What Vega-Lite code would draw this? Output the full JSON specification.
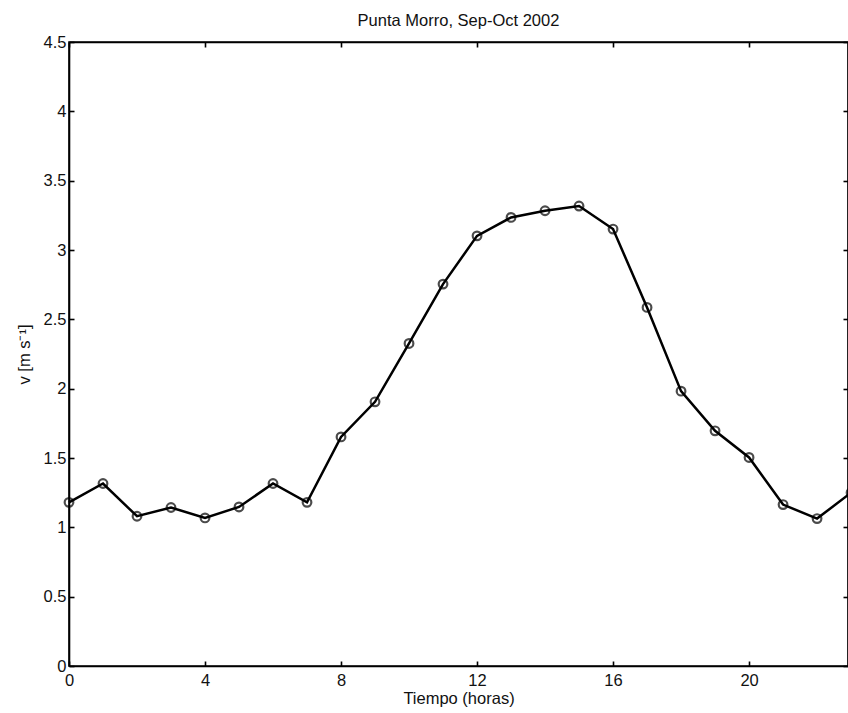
{
  "$schema": "https://vega.github.io/schema/vega-lite/v6.json",
  "autosize": "none",
  "width": 779,
  "height": 624,
  "padding": {"left": 69, "top": 42, "right": 0, "bottom": 47},
  "background": "white",
  "title": {
    "text": "Punta Morro, Sep-Oct 2002",
    "font": "Liberation Sans",
    "fontSize": 16.5,
    "fontWeight": "normal",
    "color": "#111",
    "offset": 5,
    "anchor": "middle"
  },
  "config": {
    "view": {"stroke": "black", "strokeWidth": 1.6},
    "axis": {
      "grid": false,
      "domainColor": "black",
      "domainWidth": 1.6,
      "tickColor": "black",
      "tickWidth": 1.6,
      "tickSize": -5,
      "labelFont": "Liberation Sans",
      "labelFontSize": 16.5,
      "labelColor": "#111",
      "titleFont": "Liberation Sans",
      "titleFontSize": 16.5,
      "titleFontWeight": "normal",
      "titleColor": "#111"
    }
  },
  "data": {
    "values": [
      {"hora": 0, "v": 1.18},
      {"hora": 1, "v": 1.316},
      {"hora": 2, "v": 1.08},
      {"hora": 3, "v": 1.143},
      {"hora": 4, "v": 1.068},
      {"hora": 5, "v": 1.147},
      {"hora": 6, "v": 1.316},
      {"hora": 7, "v": 1.18},
      {"hora": 8, "v": 1.652},
      {"hora": 9, "v": 1.905},
      {"hora": 10, "v": 2.326},
      {"hora": 11, "v": 2.754},
      {"hora": 12, "v": 3.102},
      {"hora": 13, "v": 3.235},
      {"hora": 14, "v": 3.283},
      {"hora": 15, "v": 3.317},
      {"hora": 16, "v": 3.151},
      {"hora": 17, "v": 2.586},
      {"hora": 18, "v": 1.982},
      {"hora": 19, "v": 1.696},
      {"hora": 20, "v": 1.504},
      {"hora": 21, "v": 1.164},
      {"hora": 22, "v": 1.063},
      {"hora": 23, "v": 1.25}
    ]
  },
  "layer": [
    {
      "mark": {"type": "line", "color": "black", "strokeWidth": 2.5, "clip": false},
      "encoding": {
        "x": {
          "field": "hora", "type": "quantitative",
          "scale": {"domain": [0, 22.91], "nice": false, "zero": false},
          "axis": {"orient": "bottom", "values": [0, 4, 8, 12, 16, 20], "format": "~g", "title": "Tiempo (horas)", "labelPadding": 11, "titlePadding": 2, "labelFlush": false}
        },
        "y": {
          "field": "v", "type": "quantitative",
          "scale": {"domain": [0, 4.5], "nice": false},
          "axis": {"orient": "left", "values": [0, 0.5, 1, 1.5, 2, 2.5, 3, 3.5, 4, 4.5], "format": "~g", "title": "v [m s⁻¹]", "labelPadding": 8, "titlePadding": 11, "labelFlush": false}
        }
      }
    },
    {
      "mark": {"type": "point", "shape": "circle", "filled": false, "color": "black", "size": 75, "strokeWidth": 2.2, "clip": false},
      "encoding": {
        "x": {
          "field": "hora", "type": "quantitative",
          "scale": {"domain": [0, 22.91], "nice": false, "zero": false},
          "axis": {"orient": "top", "values": [0, 4, 8, 12, 16, 20], "labels": false, "title": null}
        },
        "y": {
          "field": "v", "type": "quantitative",
          "scale": {"domain": [0, 4.5], "nice": false},
          "axis": {"orient": "right", "values": [0, 0.5, 1, 1.5, 2, 2.5, 3, 3.5, 4, 4.5], "labels": false, "title": null}
        }
      }
    }
  ],
  "resolve": {"axis": {"x": "independent", "y": "independent"}}
}
